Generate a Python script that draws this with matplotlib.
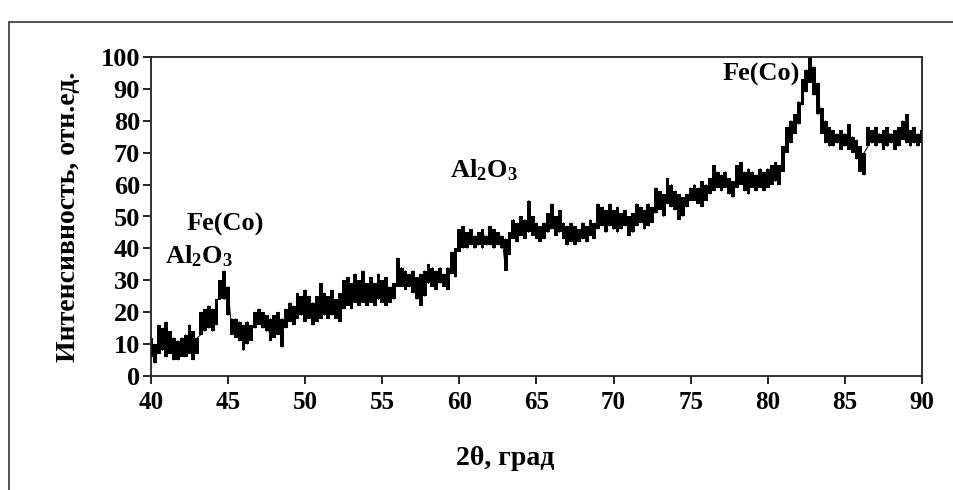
import numpy as np
import matplotlib.pyplot as plt
from matplotlib.patches import Rectangle

plt.rcParams["font.family"] = ["Liberation Serif", "DejaVu Serif"]
plt.rcParams["mathtext.default"] = "regular"

# 2theta grid, 0.25 deg step, 40..90
theta = np.arange(40.0, 90.01, 0.25)

# lower / upper edge of the noisy trace (4 points per degree)
i_low = [
    6, 4, 7, 8,      6, 7, 5, 5,      6, 6, 7, 5,      7, 13, 14, 15,
    14, 16, 24, 24,  19, 13, 12, 11,  8, 10, 11, 15,   16, 15, 14, 11,
    12, 13, 9, 15,   17, 16, 18, 19,  17, 18, 16, 17,  18, 19, 18, 19,
    18, 17, 21, 22,  21, 23, 22, 23,  22, 23, 22, 24,  23, 22, 23, 24,
    28, 28, 27, 28,  26, 24, 22, 25,  29, 28, 27, 29,  28, 27, 32, 31,
    39, 40, 40, 41,  40, 41, 40, 41,  41, 40, 41, 40,  33, 38, 43, 42,
    44, 43, 45, 44,  43, 42, 43, 45,  46, 44, 45, 43,  41, 42, 41, 42,
    43, 42, 44, 43,  46, 47, 45, 47,  46, 45, 46, 47,  44, 45, 47, 48,
    46, 47, 48, 51,  52, 50, 54, 53,  52, 49, 50, 53,  55, 55, 54, 53,
    55, 57, 58, 59,  58, 59, 57, 56,  59, 60, 58, 57,  59, 58, 59, 58,
    59, 60, 61, 60,  64, 70, 73, 76,  79, 85, 89, 92,  88, 82, 76, 73,
    72, 72, 73, 71,  72, 71, 70, 68,  64, 63, 72, 73,  72, 73, 71, 72,
    73, 71, 72, 74,  73, 72, 73, 72,  73,
]
i_high = [
    12, 10, 16, 15,  17, 14, 12, 11,  12, 13, 16, 14,  12, 20, 21, 22,
    21, 24, 30, 33,  28, 18, 18, 17,  16, 17, 16, 20,  21, 20, 19, 18,
    19, 20, 18, 21,  23, 22, 26, 25,  27, 25, 23, 25,  29, 26, 25, 27,
    24, 26, 30, 31,  29, 32, 30, 33,  29, 31, 29, 32,  30, 31, 28, 29,
    37, 34, 33, 32,  33, 31, 32, 33,  35, 34, 33, 34,  32, 34, 39, 40,
    46, 47, 45, 46,  44, 45, 46, 44,  47, 46, 45, 44,  43, 45, 49, 48,
    50, 49, 55, 50,  48, 47, 48, 51,  54, 50, 52, 48,  47, 48, 47, 46,
    48, 47, 49, 48,  54, 53, 52, 54,  52, 53, 51, 52,  50, 51, 54, 53,
    52, 54, 53, 59,  58, 57, 62, 60,  58, 57, 56, 57,  59, 60, 59, 61,
    60, 62, 66, 64,  63, 64, 62, 61,  66, 67, 64, 65,  64, 63, 65, 64,
    65, 66, 67, 66,  72, 78, 80, 82,  86, 93, 96, 100, 97, 92, 84, 80,
    78, 77, 76, 77,  76, 79, 75, 74,  72, 70, 78, 77,  78, 76, 77, 78,
    76, 77, 78, 80,  82, 77, 78, 76,  77,
]

x_ticks = [40, 45, 50, 55, 60, 65, 70, 75, 80, 85, 90]
y_ticks = [0, 10, 20, 30, 40, 50, 60, 70, 80, 90, 100]

# peak labels: (text, 2theta, intensity)
peak_labels = [
    ("Fe(Co)", 44.8, 47.5),
    ("Al$_2$O$_3$", 43.1, 37.5),
    ("Al$_2$O$_3$", 61.6, 64.5),
    ("Fe(Co)", 79.6, 94.5),
]

i_low = np.array(i_low)
i_high = np.array(i_high)

fig = plt.figure(figsize=(9.54, 4.9), dpi=100)
ax = fig.add_axes([151 / 954, 1 - 376 / 490, 771 / 954, 319 / 490])

# outer frame of the original figure
fig.patches.append(Rectangle((9 / 954, -0.1), 1.2, 0.1 + (490 - 22) / 490,
                             transform=fig.transFigure, fill=False,
                             edgecolor="#333333", lw=1.2))

# noisy trace drawn as a dense stepped band between the read edges
ax.fill_between(theta, i_low, i_high, step="mid", color="black", lw=0)
ax.vlines(theta, i_low, i_high, color="black", lw=1.4)
zig = np.ravel(np.column_stack([i_low, i_high]))
ax.plot(np.repeat(theta, 2), zig, color="black", lw=0.7)

ax.set_xlim(40, 90)
ax.set_ylim(0, 100)
ax.set_xticks(x_ticks)
ax.set_yticks(y_ticks)
ax.tick_params(direction="out", length=6, width=1.2, top=False, right=False)
ax.tick_params(axis="x", pad=5, labelsize=18)
ax.tick_params(axis="y", pad=2, labelsize=19)
for lab in ax.get_xticklabels() + ax.get_yticklabels():
    lab.set_fontweight("bold")
for s in ax.spines.values():
    s.set_linewidth(1.3)
    s.set_color("#222222")

ax.set_ylabel("Интенсивность, отн.ед.", fontsize=20, fontweight="bold", labelpad=14)
fig.text(505 / 954, 1 - 458 / 490, "2θ, град", fontsize=20, fontweight="bold",
         ha="center", va="center")

for txt, x, y in peak_labels:
    ax.text(x, y, txt, fontsize=19, fontweight="bold", ha="center", va="center")

fig.savefig("out.png", dpi=100)
